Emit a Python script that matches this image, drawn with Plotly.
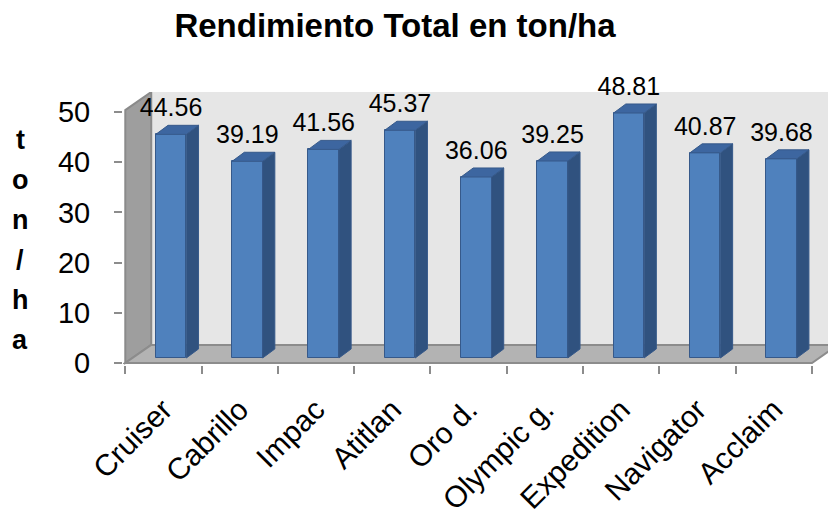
import plotly.graph_objects as go

categories = ["Cruiser", "Cabrillo", "Impac", "Atitlan", "Oro d.",
              "Olympic g.", "Expedition", "Navigator", "Acclaim"]
values = [44.56, 39.19, 41.56, 45.37, 36.06, 39.25, 48.81, 40.87, 39.68]
y_ticks = [0, 10, 20, 30, 40, 50]
y_label = "ton/ha"

FONT = "Liberation Sans, Arial, sans-serif"
FRONT = "#4F81BD"
SIDE = "#30527F"
TOP = "#3D66A0"
EDGE = "#36598A"

# fake 3d: depth of the box (walls) and of the bars, in data units
wall_dx, wall_dy = 0.34, 3.6
bar_w = 0.40
bar_x0, bar_y0 = 0.10, 1.0     # where the bar front sits on the floor
bar_dx, bar_dy = 0.16, 1.8     # depth of each bar

n = len(categories)
xs = [i + bar_x0 for i in range(n)]

fig = go.Figure()

# front faces
fig.add_trace(go.Bar(
    x=xs, y=values, base=bar_y0, width=bar_w,
    marker=dict(color=FRONT, line=dict(color=EDGE, width=1)),
    hoverinfo="skip", showlegend=False,
))

# side and top faces built from the same values
side_x, side_y, top_x, top_y = [], [], [], []
for x, v in zip(xs, values):
    xl, xr = x - bar_w / 2, x + bar_w / 2
    yt = v + bar_y0
    side_x += [xr, xr + bar_dx, xr + bar_dx, xr, xr, None]
    side_y += [bar_y0, bar_y0 + bar_dy, yt + bar_dy, yt, bar_y0, None]
    top_x += [xl, xr, xr + bar_dx, xl + bar_dx, xl, None]
    top_y += [yt, yt, yt + bar_dy, yt + bar_dy, yt, None]

fig.add_trace(go.Scatter(x=side_x, y=side_y, mode="lines", fill="toself",
                         fillcolor=SIDE, line=dict(color=EDGE, width=1),
                         hoverinfo="skip", showlegend=False))
fig.add_trace(go.Scatter(x=top_x, y=top_y, mode="lines", fill="toself",
                         fillcolor=TOP, line=dict(color=EDGE, width=1),
                         hoverinfo="skip", showlegend=False))

# value labels
fig.add_trace(go.Scatter(
    x=xs, y=[v + bar_y0 + bar_dy + 0.6 for v in values],
    mode="text", text=[f"{v:.2f}" for v in values],
    textposition="top center", cliponaxis=False,
    textfont=dict(family=FONT, size=25, color="black"),
    hoverinfo="skip", showlegend=False,
))

x_lo, x_hi = -0.53, 8.71
y_lo, y_hi = -0.4, 54.0
left, right_end = -0.5, n - 0.5

# walls and floor
fig.add_shape(type="rect", layer="below", line_width=0, fillcolor="#E6E6E6",
              x0=left + wall_dx, x1=x_hi + 1, y0=wall_dy, y1=y_hi + 1)
fig.add_shape(type="path", layer="below", fillcolor="#9E9E9E",
              line=dict(color="#8A8A8A", width=2),
              path=f"M{left},0 L{left + wall_dx},{wall_dy} L{left + wall_dx},{y_hi} "
                   f"L{left},{y_hi - wall_dy} Z")
fig.add_shape(type="path", layer="below", fillcolor="#B3B3B3",
              line=dict(color="#8C8C8C", width=2),
              path=f"M{left},0 L{right_end},0 L{right_end + wall_dx},{wall_dy} "
                   f"L{left + wall_dx},{wall_dy} Z")

# stacked axis title
for i, ch in enumerate(y_label):
    py = 140 + 40 * i
    fig.add_annotation(text=ch, xref="paper", yref="paper",
                       x=(20 - 123) / 705, y=(365 - py) / 273,
                       xanchor="center", yanchor="middle", showarrow=False,
                       font=dict(family=FONT, size=27, color="black",
                                 weight="bold"))

fig.update_layout(
    width=828, height=517,
    margin=dict(l=123, r=0, t=92, b=152, autoexpand=False),
    paper_bgcolor="white", plot_bgcolor="white",
    font=dict(family=FONT, color="black"),
    title=dict(text="<b>Rendimiento Total en ton/ha</b>", x=395 / 828,
               xanchor="center", y=0.95, yanchor="middle",
               font=dict(family=FONT, size=33, color="black")),
    bargap=0,
    xaxis=dict(range=[x_lo, x_hi], showgrid=False, zeroline=False,
               showline=False, tickmode="array", automargin=False,
               tickvals=list(range(n)), ticktext=categories,
               ticks="", tickangle=-45, ticklabelstandoff=20,
               tickfont=dict(family=FONT, size=30, color="black"),
               minor=dict(tickmode="array",
                          tickvals=[i - 0.5 for i in range(n + 1)],
                          ticks="outside", ticklen=8, tickcolor="#8C8C8C",
                          tickwidth=2, showgrid=False)),
    yaxis=dict(range=[y_lo, y_hi], showgrid=False, zeroline=False,
               showline=False, tickmode="array", tickvals=y_ticks,
               automargin=False,
               ticks="outside", ticklen=8, tickcolor="#8C8C8C", tickwidth=2,
               ticklabelstandoff=18,
               tickfont=dict(family=FONT, size=29, color="black")),
)

# the page body has a default 8px margin; drop it so the chart fills the window
fig.write_html("out.html", config={"displayModeBar": False},
               post_script="document.body.style.margin='0';")
